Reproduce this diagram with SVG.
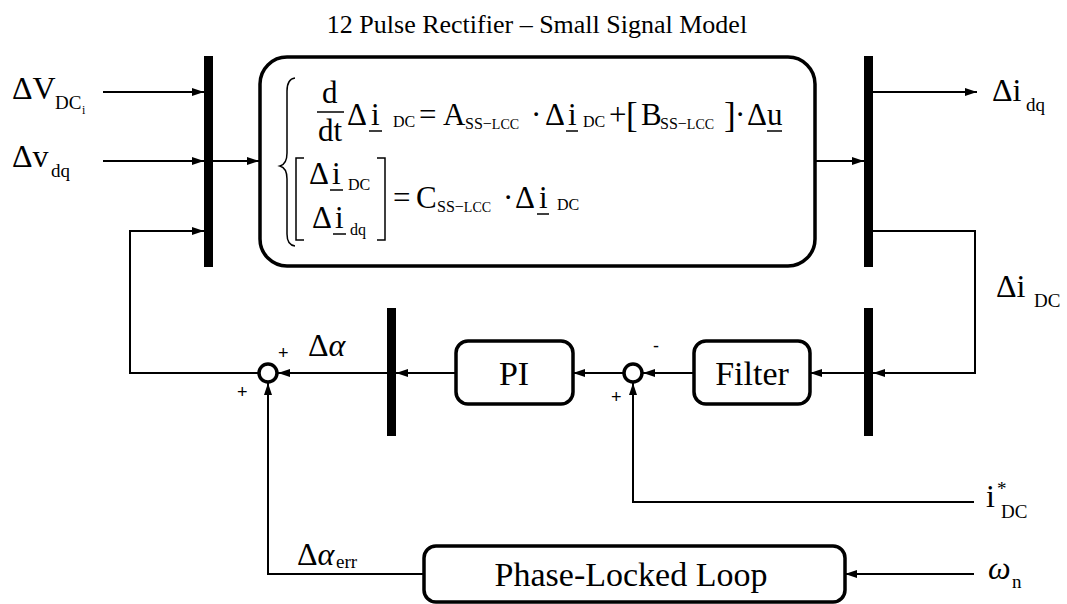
<svg xmlns="http://www.w3.org/2000/svg" width="1067" height="604" viewBox="0 0 1067 604" font-family="'Liberation Serif', 'Times New Roman', serif">
<style>
.t{font-family:"Liberation Serif","Times New Roman",serif;fill:#000}
.big{font-size:32px}
.lbl{font-size:34px}
.eq{font-size:31px}
.sub{font-size:16px}
.sub2{font-size:16px}
.ls{font-size:19px}
.sm{font-size:12px}
.sign{font-family:"Liberation Sans",Arial,sans-serif;font-size:18px;fill:#000}
.box{fill:#fff;stroke:#000;stroke-width:3.5}
.bus{fill:#000}
.wire{fill:none;stroke:#000;stroke-width:2}
.thin{fill:none;stroke:#000;stroke-width:1.5}
.sum{fill:#fff;stroke:#000;stroke-width:3.5}
</style>
<defs>
<marker id="ah" markerWidth="12" markerHeight="8" refX="12" refY="4" orient="auto" markerUnits="userSpaceOnUse">
<path d="M0,0 L12,4 L0,8 Z" fill="#000"/>
</marker>
</defs>

<text class="t" x="537" y="33" font-size="26" text-anchor="middle">12 Pulse Rectifier – Small Signal Model</text>

<g id="connectors">
<line class="wire" x1="103" y1="92" x2="204" y2="92" marker-end="url(#ah)"/>
<line class="wire" x1="103" y1="161" x2="204" y2="161" marker-end="url(#ah)"/>
<line class="wire" x1="213" y1="161" x2="259" y2="161" marker-end="url(#ah)"/>
<line class="wire" x1="815" y1="161" x2="864" y2="161" marker-end="url(#ah)"/>
<line class="wire" x1="873" y1="92" x2="977" y2="92" marker-end="url(#ah)"/>
<polyline class="wire" points="873,231 975,231 975,373 873,373" marker-end="url(#ah)"/>
<line class="wire" x1="864" y1="373" x2="810" y2="373" marker-end="url(#ah)"/>
<line class="wire" x1="694" y1="373" x2="643" y2="373" marker-end="url(#ah)"/>
<polyline class="wire" points="974,502 633,502 633,383" marker-end="url(#ah)"/>
<line class="wire" x1="623" y1="373" x2="573" y2="373" marker-end="url(#ah)"/>
<line class="wire" x1="456" y1="373" x2="396" y2="373" marker-end="url(#ah)"/>
<line class="wire" x1="387" y1="373" x2="278" y2="373" marker-end="url(#ah)"/>
<polyline class="wire" points="259,373 130,373 130,231 204,231" marker-end="url(#ah)"/>
<polyline class="wire" points="424,574 268,574 268,383" marker-end="url(#ah)"/>
<line class="wire" x1="974" y1="574" x2="845" y2="574" marker-end="url(#ah)"/>
</g>

<g id="bus-left"><rect class="bus" x="204" y="56" width="9" height="211"/></g>
<g id="bus-right"><rect class="bus" x="864" y="56" width="9" height="211"/></g>
<g id="bus-lower-right"><rect class="bus" x="864" y="308" width="9" height="128"/></g>
<g id="bus-middle"><rect class="bus" x="387" y="308" width="9" height="128"/></g>

<g id="model">
<rect class="box" x="260" y="57" width="555" height="209" rx="27"/>
<path class="thin" d="M295,78 Q287,79 287,91 L287,153 Q287,164 280,166 Q287,168 287,179 L287,234 Q287,245 295,246"/>
<text class="t eq" x="322" y="103">d</text>
<line class="thin" x1="317" y1="112" x2="344" y2="112"/>
<text class="t eq" x="318" y="141">dt</text>
<text class="t eq" x="347" y="125">Δ</text>
<text class="t eq" x="371" y="125">i</text>
<line class="thin" x1="369" y1="131" x2="382" y2="131"/>
<text class="t sub" x="393" y="127">DC</text>
<text class="t eq" x="419" y="125">=</text>
<text class="t eq" x="443" y="125">A</text>
<text class="t sub2" x="465" y="129">SS−<tspan font-size="14">LCC</tspan></text>
<text class="t eq" x="531" y="125">·</text>
<text class="t eq" x="545" y="125">Δ</text>
<text class="t eq" x="568" y="125">i</text>
<line class="thin" x1="566" y1="131" x2="578" y2="131"/>
<text class="t sub" x="583" y="127">DC</text>
<text class="t eq" x="609" y="125">+</text>
<text class="t" x="626" y="127" font-size="35">[</text>
<text class="t eq" x="641" y="125">B</text>
<text class="t sub2" x="660" y="129">SS−<tspan font-size="14">LCC</tspan></text>
<text class="t" x="724" y="127" font-size="35">]</text>
<text class="t eq" x="735" y="125">·</text>
<text class="t eq" x="747" y="125">Δ</text>
<text class="t eq" x="767" y="125">u</text>
<line class="thin" x1="767" y1="131" x2="782" y2="131"/>

<polyline class="thin" points="304,158 296,158 296,240 304,240"/>
<polyline class="thin" points="377,158 385,158 385,240 377,240"/>
<text class="t eq" x="309" y="184">Δ</text>
<text class="t eq" x="332" y="184">i</text>
<line class="thin" x1="330" y1="190" x2="343" y2="190"/>
<text class="t sub" x="348" y="190">DC</text>
<text class="t eq" x="312" y="228">Δ</text>
<text class="t eq" x="335" y="228">i</text>
<line class="thin" x1="333" y1="234" x2="346" y2="234"/>
<text class="t sub" x="350" y="235">dq</text>
<text class="t eq" x="393" y="208">=</text>
<text class="t eq" x="416" y="208">C</text>
<text class="t sub2" x="437" y="212">SS−<tspan font-size="14">LCC</tspan></text>
<text class="t eq" x="503" y="208">·</text>
<text class="t eq" x="515" y="208">Δ</text>
<text class="t eq" x="539" y="208">i</text>
<line class="thin" x1="537" y1="214" x2="549" y2="214"/>
<text class="t sub" x="557" y="210">DC</text>
</g>

<g id="filter">
<rect class="box" x="694" y="341" width="116" height="63" rx="12"/>
<text class="t lbl" x="752" y="385" text-anchor="middle">Filter</text>
</g>
<g id="pi">
<rect class="box" x="456" y="341" width="117" height="63" rx="12"/>
<text class="t lbl" x="514" y="385" text-anchor="middle">PI</text>
</g>
<g id="pll">
<rect class="box" x="424" y="546" width="421" height="56" rx="12"/>
<text class="t lbl" x="631" y="586" text-anchor="middle">Phase-Locked Loop</text>
</g>
<g id="sum-right">
<circle class="sum" cx="633" cy="373" r="9"/>
<text class="sign" x="653" y="352">-</text>
<text class="sign" x="611" y="403">+</text>
</g>
<g id="sum-left">
<circle class="sum" cx="268" cy="373" r="9"/>
<text class="sign" x="278" y="359">+</text>
<text class="sign" x="237" y="398">+</text>
</g>

<g id="labels">
<text class="t big" x="12" y="99">ΔV</text>
<text class="t ls" x="55" y="109">DC</text>
<text class="t sm" x="82" y="114">i</text>
<text class="t big" x="12" y="167">Δv</text>
<text class="t ls" x="51" y="177">dq</text>
<text class="t big" x="992" y="101">Δi</text>
<text class="t ls" x="1026" y="111">dq</text>
<text class="t big" x="996" y="297">Δi</text>
<text class="t ls" x="1034" y="307">DC</text>
<text class="t big" x="986" y="507">i</text>
<text class="t ls" x="997" y="495">*</text>
<text class="t ls" x="1001" y="518">DC</text>
<text class="t big" x="988" y="579" font-style="italic">ω</text>
<text class="t ls" x="1012" y="588">n</text>
<text class="t big" x="308" y="356">Δ<tspan font-style="italic">α</tspan></text>
<text class="t big" x="297" y="565">Δ<tspan font-style="italic">α</tspan></text>
<text class="t ls" x="336" y="568">err</text>
</g>
</svg>
